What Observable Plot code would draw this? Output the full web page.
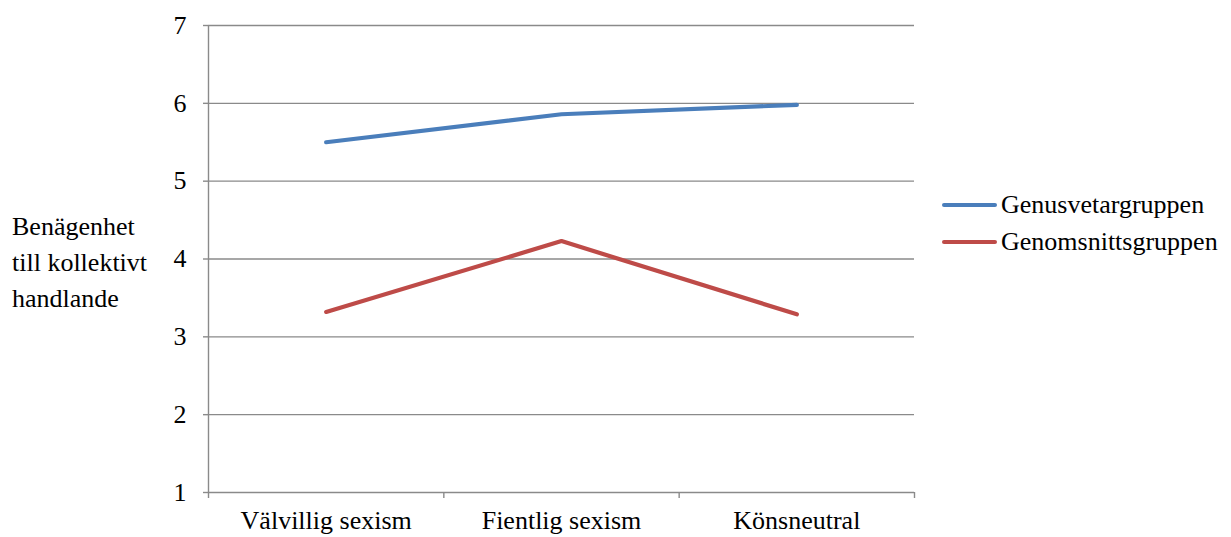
<!DOCTYPE html>
<html><head><meta charset="utf-8">
<script src="https://cdn.jsdelivr.net/npm/d3@7"></script>
<script src="https://cdn.jsdelivr.net/npm/@observablehq/plot@0.6"></script>
<style>
body{margin:0;background:#fff;font-family:"Liberation Serif","Times New Roman",serif;}
#wrap{position:relative;width:1231px;height:537px;}
#chart svg, #chart svg text{font-family:"Liberation Serif",serif !important;font-size:26px !important;fill:#000;}
#ylab{position:absolute;left:12px;top:209px;font-size:26px;line-height:36px;color:#000;white-space:nowrap;}
#legend{position:absolute;left:942px;top:186px;font-size:26px;color:#000;white-space:nowrap;}
.li{display:flex;align-items:center;height:37px;line-height:37px;}
.sw{width:55px;height:4px;border-radius:2px;margin-right:4px;}
</style></head><body>
<div id="wrap"><div id="chart"></div>
<div id="ylab">Benägenhet<br>till kollektivt<br>handlande</div>
<div id="legend"></div></div>
<script>
const categories = ["Välvillig sexism", "Fientlig sexism", "Könsneutral"];
const seriesNames = ["Genusvetargruppen", "Genomsnittsgruppen"];
const genusvetar = [5.50, 5.86, 5.98];
const genomsnitt = [3.32, 4.23, 3.29];
const colors = ["#4a7ebb", "#be4b48"];
const yTicks = [1, 2, 3, 4, 5, 6, 7];

const data = [];
[genusvetar, genomsnitt].forEach((vals, s) => vals.forEach((v, i) => data.push({series: seriesNames[s], x: i + 0.5, y: v})));

const grid = "#8a8a8a";
const chart = Plot.plot({
  width: 1231, height: 537,
  marginLeft: 208, marginRight: 317, marginTop: 25, marginBottom: 45,
  style: {background: "#fff", color: "#000"},
  x: {domain: [0, categories.length]},
  y: {domain: [1, 7]},
  color: {domain: seriesNames, range: colors},
  marks: [
    Plot.ruleY(yTicks.slice(1), {stroke: grid, strokeWidth: 1.4}),
    Plot.ruleY([1], {stroke: grid, strokeWidth: 1.4}),
    Plot.ruleX([0], {stroke: grid, strokeWidth: 1.4}),
    Plot.axisY({ticks: yTicks, tickSize: 5, tickPadding: 17, tickFormat: d3.format("d"), stroke: grid, strokeWidth: 1.4, label: null}),
    Plot.axisX({ticks: d3.range(categories.length + 1), tickSize: 6, tickFormat: () => "", stroke: grid, strokeWidth: 1.4, label: null}),
    Plot.axisX({ticks: categories.map((c, i) => i + 0.5), tickSize: 0, tickPadding: 18, tickFormat: d => categories[Math.floor(d)], label: null}),
    Plot.line(data, {x: "x", y: "y", z: "series", stroke: "series", strokeWidth: 4.2, strokeLinecap: "round"})
  ]
});
document.getElementById("chart").appendChild(chart);
const lg = document.getElementById("legend");
seriesNames.forEach((n, i) => {
  const d = document.createElement("div"); d.className = "li";
  d.innerHTML = `<span class="sw" style="background:${colors[i]}"></span><span>${n}</span>`;
  lg.appendChild(d);
});
</script></body></html>
